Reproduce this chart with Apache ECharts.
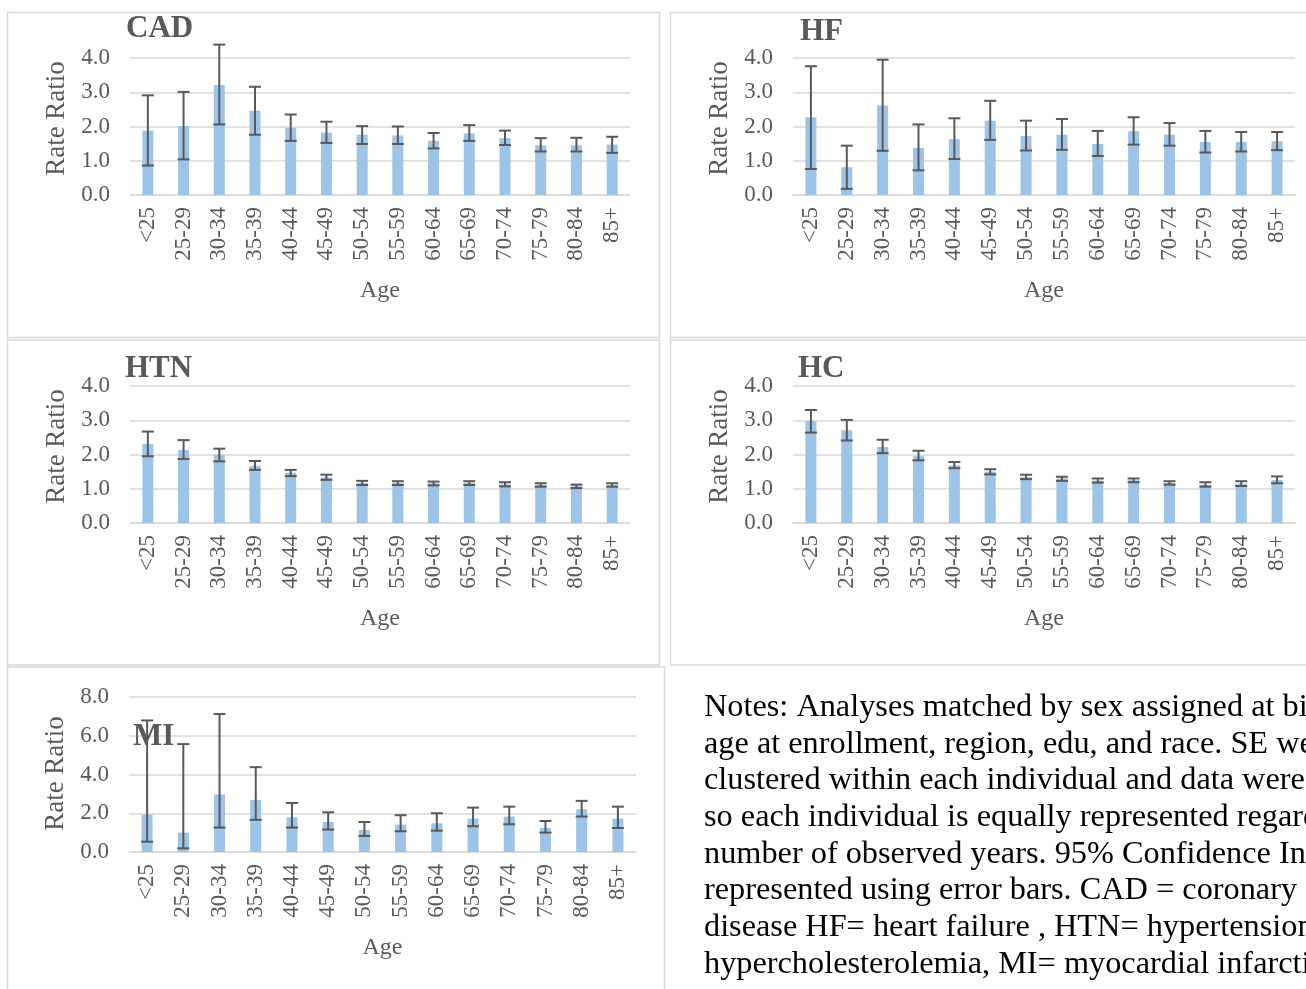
<!DOCTYPE html>
<html>
<head>
<meta charset="utf-8">
<script src="https://cdn.jsdelivr.net/npm/echarts@6/dist/echarts.min.js"></script>
<style>
html,body{margin:0;padding:0;background:#fff;overflow:hidden;}
#c{width:1306px;height:989px;}
</style>
</head>
<body>
<div id="c"></div>
<script>
const categories = ['<25','25-29','30-34','35-39','40-44','45-49','50-54','55-59','60-64','65-69','70-74','75-79','80-84','85+'];
const yTicks4 = [0, 1, 2, 3, 4];
const yTicks8 = [0, 2, 4, 6, 8];

const cadRR = [1.88, 2.01, 3.21, 2.46, 1.96, 1.82, 1.76, 1.74, 1.58, 1.80, 1.66, 1.45, 1.45, 1.47];
const cadLo = [0.86, 1.04, 2.06, 1.76, 1.58, 1.52, 1.49, 1.49, 1.36, 1.58, 1.46, 1.27, 1.27, 1.23];
const cadHi = [2.91, 3.01, 4.39, 3.16, 2.35, 2.14, 2.01, 2.00, 1.81, 2.04, 1.88, 1.66, 1.67, 1.70];

const hfRR = [2.27, 0.81, 2.61, 1.37, 1.63, 2.17, 1.72, 1.76, 1.49, 1.86, 1.76, 1.55, 1.55, 1.57];
const hfLo = [0.76, 0.18, 1.29, 0.72, 1.05, 1.61, 1.30, 1.32, 1.14, 1.47, 1.44, 1.24, 1.27, 1.31];
const hfHi = [3.76, 1.44, 3.95, 2.06, 2.24, 2.75, 2.17, 2.22, 1.87, 2.27, 2.10, 1.87, 1.84, 1.84];

const htnRR = [2.31, 2.13, 1.99, 1.67, 1.47, 1.33, 1.17, 1.17, 1.16, 1.17, 1.13, 1.11, 1.07, 1.11];
const htnLo = [1.95, 1.87, 1.80, 1.55, 1.37, 1.26, 1.11, 1.11, 1.10, 1.11, 1.07, 1.06, 1.02, 1.06];
const htnHi = [2.67, 2.42, 2.17, 1.81, 1.55, 1.41, 1.23, 1.22, 1.21, 1.22, 1.19, 1.16, 1.12, 1.16];

const hcRR = [2.98, 2.71, 2.22, 1.95, 1.68, 1.50, 1.34, 1.30, 1.24, 1.25, 1.17, 1.12, 1.15, 1.26];
const hcLo = [2.64, 2.41, 2.04, 1.83, 1.60, 1.42, 1.28, 1.23, 1.18, 1.19, 1.12, 1.06, 1.08, 1.16];
const hcHi = [3.30, 3.01, 2.43, 2.11, 1.78, 1.57, 1.41, 1.35, 1.30, 1.30, 1.22, 1.19, 1.22, 1.36];

const miRR = [1.93, 1.00, 2.97, 2.69, 1.79, 1.55, 1.14, 1.41, 1.48, 1.72, 1.83, 1.24, 2.21, 1.72];
const miLo = [0.53, 0.19, 1.26, 1.66, 1.26, 1.16, 0.83, 1.07, 1.10, 1.33, 1.43, 1.00, 1.83, 1.24];
const miHi = [6.79, 5.57, 7.12, 4.38, 2.53, 2.05, 1.55, 1.90, 2.00, 2.29, 2.34, 1.60, 2.64, 2.34];

const panelTitles = ['CAD', 'HF', 'HTN', 'HC', 'MI'];
const yAxisName = 'Rate Ratio';
const xAxisName = 'Age';
const notesLines = [
  'Notes: Analyses matched by sex assigned at birth,',
  'age at enrollment, region, edu, and race. SE were',
  'clustered within each individual and data were weighted',
  'so each individual is equally represented regardless of',
  'number of observed years. 95% Confidence Intervals',
  'represented using error bars. CAD = coronary artery',
  'disease HF= heart failure , HTN= hypertension, HC=',
  'hypercholesterolemia, MI= myocardial infarction'
];

const FONT = "'Liberation Serif', 'Times New Roman', serif";
const TXT = '#595959';
const GRIDC = '#d9d9d9';
const BAR = '#9dc3e6';
const ERR = '#595959';

const panels = [
  {rr: cadRR, lo: cadLo, hi: cadHi, ticks: yTicks4, grid: {left: 130, top: 58, width: 500, height: 137}, title: [126, 29], namePad: 16},
  {rr: hfRR, lo: hfLo, hi: hfHi, ticks: yTicks4, grid: {left: 793, top: 58, width: 502, height: 137}, title: [800, 31.5], namePad: 16},
  {rr: htnRR, lo: htnLo, hi: htnHi, ticks: yTicks4, grid: {left: 130, top: 386, width: 500, height: 137}, title: [125, 369], namePad: 16},
  {rr: hcRR, lo: hcLo, hi: hcHi, ticks: yTicks4, grid: {left: 793, top: 386, width: 502, height: 137}, title: [798, 369], namePad: 16},
  {rr: miRR, lo: miLo, hi: miHi, ticks: yTicks8, grid: {left: 129, top: 697, width: 507, height: 155}, title: [133, 737], namePad: 2}
];

function errRender(params, api) {
  const x = api.value(0);
  const pLo = api.coord([x, api.value(1)]);
  const pHi = api.coord([x, api.value(2)]);
  const hw = 6;
  const style = {stroke: ERR, lineWidth: 2};
  return {
    type: 'group',
    children: [
      {type: 'line', shape: {x1: pLo[0], y1: pLo[1], x2: pHi[0], y2: pHi[1]}, style: style},
      {type: 'line', shape: {x1: pHi[0] - hw, y1: pHi[1], x2: pHi[0] + hw, y2: pHi[1]}, style: style},
      {type: 'line', shape: {x1: pLo[0] - hw, y1: pLo[1], x2: pLo[0] + hw, y2: pLo[1]}, style: style}
    ]
  };
}

const grids = [], xAxes = [], yAxes = [], series = [], titleTexts = [];
panels.forEach((p, i) => {
  grids.push(Object.assign({containLabel: false}, p.grid));
  xAxes.push({
    type: 'category', gridIndex: i, data: categories,
    name: xAxisName, nameLocation: 'middle', nameGap: 84,
    nameTextStyle: {fontFamily: FONT, fontSize: 24, color: TXT},
    axisLine: {show: true, lineStyle: {color: GRIDC, width: 1.5}},
    axisTick: {show: false},
    axisLabel: {rotate: 90, interval: 0, margin: 12, fontFamily: FONT, fontSize: 23, color: TXT}
  });
  const step = p.ticks[1] - p.ticks[0];
  yAxes.push({
    type: 'value', gridIndex: i, min: p.ticks[0], max: p.ticks[p.ticks.length - 1], interval: step,
    name: yAxisName, nameLocation: 'middle', nameGap: 60,
    nameTextStyle: {fontFamily: FONT, fontSize: 27, color: TXT, padding: [0, 0, 0, p.namePad]},
    axisLine: {show: false}, axisTick: {show: false},
    splitLine: {lineStyle: {color: GRIDC, width: 1.5}},
    axisLabel: {margin: 20, fontFamily: FONT, fontSize: 23, color: TXT, formatter: v => v.toFixed(1)}
  });
  series.push({
    type: 'bar', xAxisIndex: i, yAxisIndex: i, data: p.rr, barWidth: 11,
    itemStyle: {color: BAR}, silent: true
  });
  series.push({
    type: 'custom', xAxisIndex: i, yAxisIndex: i,
    data: categories.map((c, k) => [k, p.lo[k], p.hi[k]]),
    encode: {x: 0, y: [1, 2]},
    renderItem: errRender, silent: true, z: 3
  });
  titleTexts.push({
    type: 'text', x: p.title[0], y: p.title[1], silent: true, z: 100,
    style: {text: panelTitles[i], fontFamily: FONT, fontSize: 31, fontWeight: 'bold', fill: TXT,
      align: 'left', verticalAlign: 'middle'}
  });
});

const borders = [
  [7.5, 12.5, 652, 325], [670.5, 12.5, 660, 325],
  [7.5, 340, 652, 325], [670.5, 340, 660, 325],
  [7.5, 667, 657, 340]
].map(b => ({type: 'rect', shape: {x: b[0], y: b[1], width: b[2], height: b[3]},
  style: {fill: null, stroke: GRIDC, lineWidth: 1.5}, silent: true, z: -10}));

const chart = echarts.init(document.getElementById('c'), null, {renderer: 'canvas'});
chart.setOption({
  animation: false,
  backgroundColor: '#fff',
  grid: grids,
  xAxis: xAxes,
  yAxis: yAxes,
  series: series,
  graphic: borders.concat(titleTexts).concat([{
    type: 'text', x: 704, y: 689, silent: true,
    style: {text: notesLines.join('\n'), fontFamily: FONT, fontSize: 32.3, lineHeight: 36.7, fill: '#000'}
  }])
});
</script>
</body>
</html>
